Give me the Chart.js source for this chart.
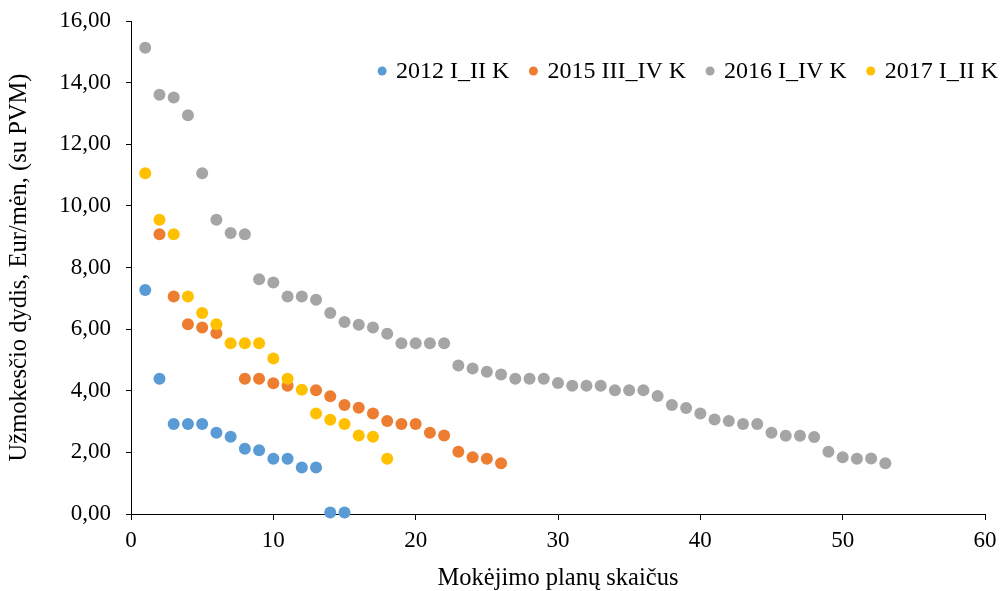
<!DOCTYPE html>
<html>
<head>
<meta charset="utf-8">
<script src="https://cdn.jsdelivr.net/npm/chart.js@4"></script>
<style>
html,body{margin:0;padding:0;background:#fff;}
#c{display:block;}
</style>
</head>
<body>
<canvas id="c" width="1003" height="591"></canvas>
<script>
// ---- data ----
const seriesLabels = ['2012 I_II K', '2015 III_IV K', '2016 I_IV K', '2017 I_II K'];
const seriesColors = ['#5B9BD5', '#ED7D31', '#A5A5A5', '#FFC000'];

const plans2012 = [1,2,3,4,5,6,7,8,9,10,11,12,13,14,15];
const values2012 = [7.27,4.39,2.92,2.92,2.92,2.64,2.51,2.12,2.07,1.79,1.79,1.51,1.51,0.05,0.05];

const plans2015 = [2,3,4,5,6,8,9,10,11,13,14,15,16,17,18,19,20,21,22,23,24,25,26];
const values2015 = [9.08,7.06,6.16,6.05,5.87,4.39,4.39,4.24,4.16,4.02,3.82,3.54,3.45,3.26,3.02,2.92,2.92,2.64,2.55,2.02,1.84,1.79,1.65];

const plans2016 = [1,2,3,4,5,6,7,8,9,10,11,12,13,14,15,16,17,18,19,20,21,22,23,24,25,26,27,28,29,30,31,32,33,34,35,36,37,38,39,40,41,42,43,44,45,46,47,48,49,50,51,52,53];
const values2016 = [15.13,13.61,13.52,12.94,11.06,9.55,9.12,9.08,7.62,7.51,7.06,7.06,6.95,6.52,6.23,6.14,6.05,5.85,5.54,5.54,5.54,5.54,4.82,4.72,4.62,4.53,4.39,4.39,4.39,4.25,4.16,4.16,4.16,4.02,4.02,4.02,3.83,3.54,3.44,3.26,3.07,3.02,2.92,2.92,2.64,2.54,2.54,2.50,2.02,1.84,1.79,1.80,1.65];

const plans2017 = [1,2,3,4,5,6,7,8,9,10,11,12,13,14,15,16,17,18];
const values2017 = [11.06,9.55,9.08,7.06,6.52,6.16,5.54,5.54,5.54,5.05,4.39,4.03,3.26,3.06,2.92,2.55,2.51,1.79];

const xTickLabels = ['0','10','20','30','40','50','60'];
const yTickLabels = ['0,00','2,00','4,00','6,00','8,00','10,00','12,00','14,00','16,00'];

const xTitle = 'Mokėjimo planų skaičus';
const yTitle = 'Užmokesčio dydis, Eur/mėn, (su PVM)';

// ---- build chart ----
const FONT = "'Liberation Serif', 'Times New Roman', serif";
const allPlans = [plans2012, plans2015, plans2016, plans2017];
const allValues = [values2012, values2015, values2016, values2017];

const datasets = seriesLabels.map((lab, i) => ({
  label: lab,
  data: allPlans[i].map((x, j) => ({x: x, y: allValues[i][j]})),
  backgroundColor: seriesColors[i],
  borderColor: seriesColors[i],
  borderWidth: 0,
  pointRadius: 6,
  pointHoverRadius: 6,
  showLine: false,
  clip: false,
  order: seriesLabels.length - i
}));

const legendPlugin = {
  id: 'customLegend',
  afterDraw(chart) {
    const ctx = chart.ctx;
    ctx.save();
    ctx.font = '24px ' + FONT;
    ctx.textBaseline = 'middle';
    ctx.textAlign = 'left';
    const y = 72;
    const dotToText = 14;
    const gap = 24;
    const ds = chart.data.datasets;
    let total = 0;
    const widths = ds.map(d => ctx.measureText(d.label).width);
    widths.forEach((w, i) => { total += dotToText + w + (i < ds.length - 1 ? gap : 0); });
    let x = 998 - total;
    ds.forEach((d, i) => {
      ctx.fillStyle = d.backgroundColor;
      ctx.beginPath();
      ctx.arc(x, y - 1, 4.5, 0, Math.PI * 2);
      ctx.fill();
      ctx.fillStyle = '#000';
      ctx.fillText(d.label, x + dotToText, y);
      x += dotToText + widths[i] + gap;
    });
    ctx.restore();
  }
};

new Chart(document.getElementById('c'), {
  type: 'scatter',
  data: { datasets },
  options: {
    responsive: false,
    devicePixelRatio: 1,
    animation: false,
    events: [],
    layout: { padding: { left: 0, top: 21, right: 18, bottom: 0 } },
    plugins: { legend: { display: false }, tooltip: { enabled: false } },
    scales: {
      x: {
        type: 'linear',
        min: 0, max: 60,
        afterFit(s) { s.height = 77; s.paddingLeft = 0; s.paddingRight = 0; },
        border: { display: true, color: '#000', width: 1 },
        grid: { display: true, drawOnChartArea: false, drawTicks: true, tickLength: 6, color: '#000', tickColor: '#000' },
        ticks: {
          stepSize: 10, padding: 7, color: '#000', maxRotation: 0,
          font: { family: FONT, size: 23 },
          callback: (v) => { const i = xTickLabels.indexOf(String(v)); return i >= 0 ? xTickLabels[i] : ''; }
        },
        title: { display: true, text: xTitle, color: '#000', font: { family: FONT, size: 24.5, lineHeight: 1.0 }, padding: { top: 0, bottom: 0 } }
      },
      y: {
        type: 'linear',
        min: 0, max: 16,
        afterFit(s) { s.width = 131; s.paddingTop = 0; s.paddingBottom = 0; },
        border: { display: true, color: '#000', width: 1 },
        grid: { display: true, drawOnChartArea: false, drawTicks: true, tickLength: 5, color: '#000', tickColor: '#000' },
        ticks: {
          stepSize: 2, padding: 15, color: '#000',
          font: { family: FONT, size: 23 },
          callback: (v) => yTickLabels[Math.round(v / 2)]
        },
        title: { display: true, text: yTitle, color: '#000', font: { family: FONT, size: 24.5 }, padding: { top: 5, bottom: 0 } }
      }
    }
  },
  plugins: [legendPlugin]
});
</script>
</body>
</html>
